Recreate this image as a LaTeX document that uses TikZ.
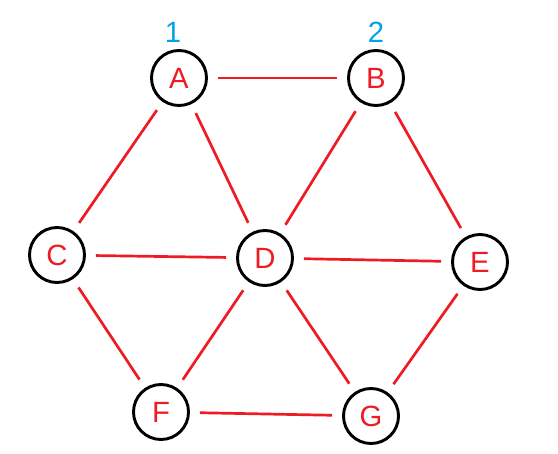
\documentclass[tikz,border=0pt]{standalone}
\usepackage{fontspec}
\setmainfont{Liberation Sans}
\definecolor{pred}{RGB}{237,28,36}
\definecolor{pblue}{RGB}{0,162,232}

\begin{document}
\begin{tikzpicture}[x=0.03cm,y=-0.03cm,
  vertex/.style={draw,circle,line width=2.5pt,minimum size=1.65cm,inner sep=0pt,text=pred,font=\fontsize{25}{29}\selectfont},
  edge/.style={pred,line width=2.3pt,shorten >=0.3cm,shorten <=0.3cm},
  num/.style={text=pblue,font=\fontsize{25}{29}\selectfont}]

\useasboundingbox (0,0) rectangle (558,454);

\node[vertex] (A) at (179,78) {A};
\node[vertex] (B) at (376,78) {B};
\node[vertex] (C) at (57,255) {C};
\node[vertex] (D) at (265,258) {D};
\node[vertex] (E) at (480,262) {E};
\node[vertex] (F) at (161,412) {F};
\node[vertex] (G) at (371,416) {G};

\node[num] (n1) at (173,32) {1};
\node[num] (n2) at (376,32) {2};

\draw[edge] (A) -- (B);
\draw[edge] (A) -- (C);
\draw[edge] (A) -- (D);
\draw[edge] (B) -- (D);
\draw[edge] (B) -- (E);
\draw[edge] (C) -- (D);
\draw[edge] (C) -- (F);
\draw[edge] (D) -- (E);
\draw[edge] (D) -- (F);
\draw[edge] (D) -- (G);
\draw[edge] (E) -- (G);
\draw[edge] (F) -- (G);

\end{tikzpicture}
\end{document}
